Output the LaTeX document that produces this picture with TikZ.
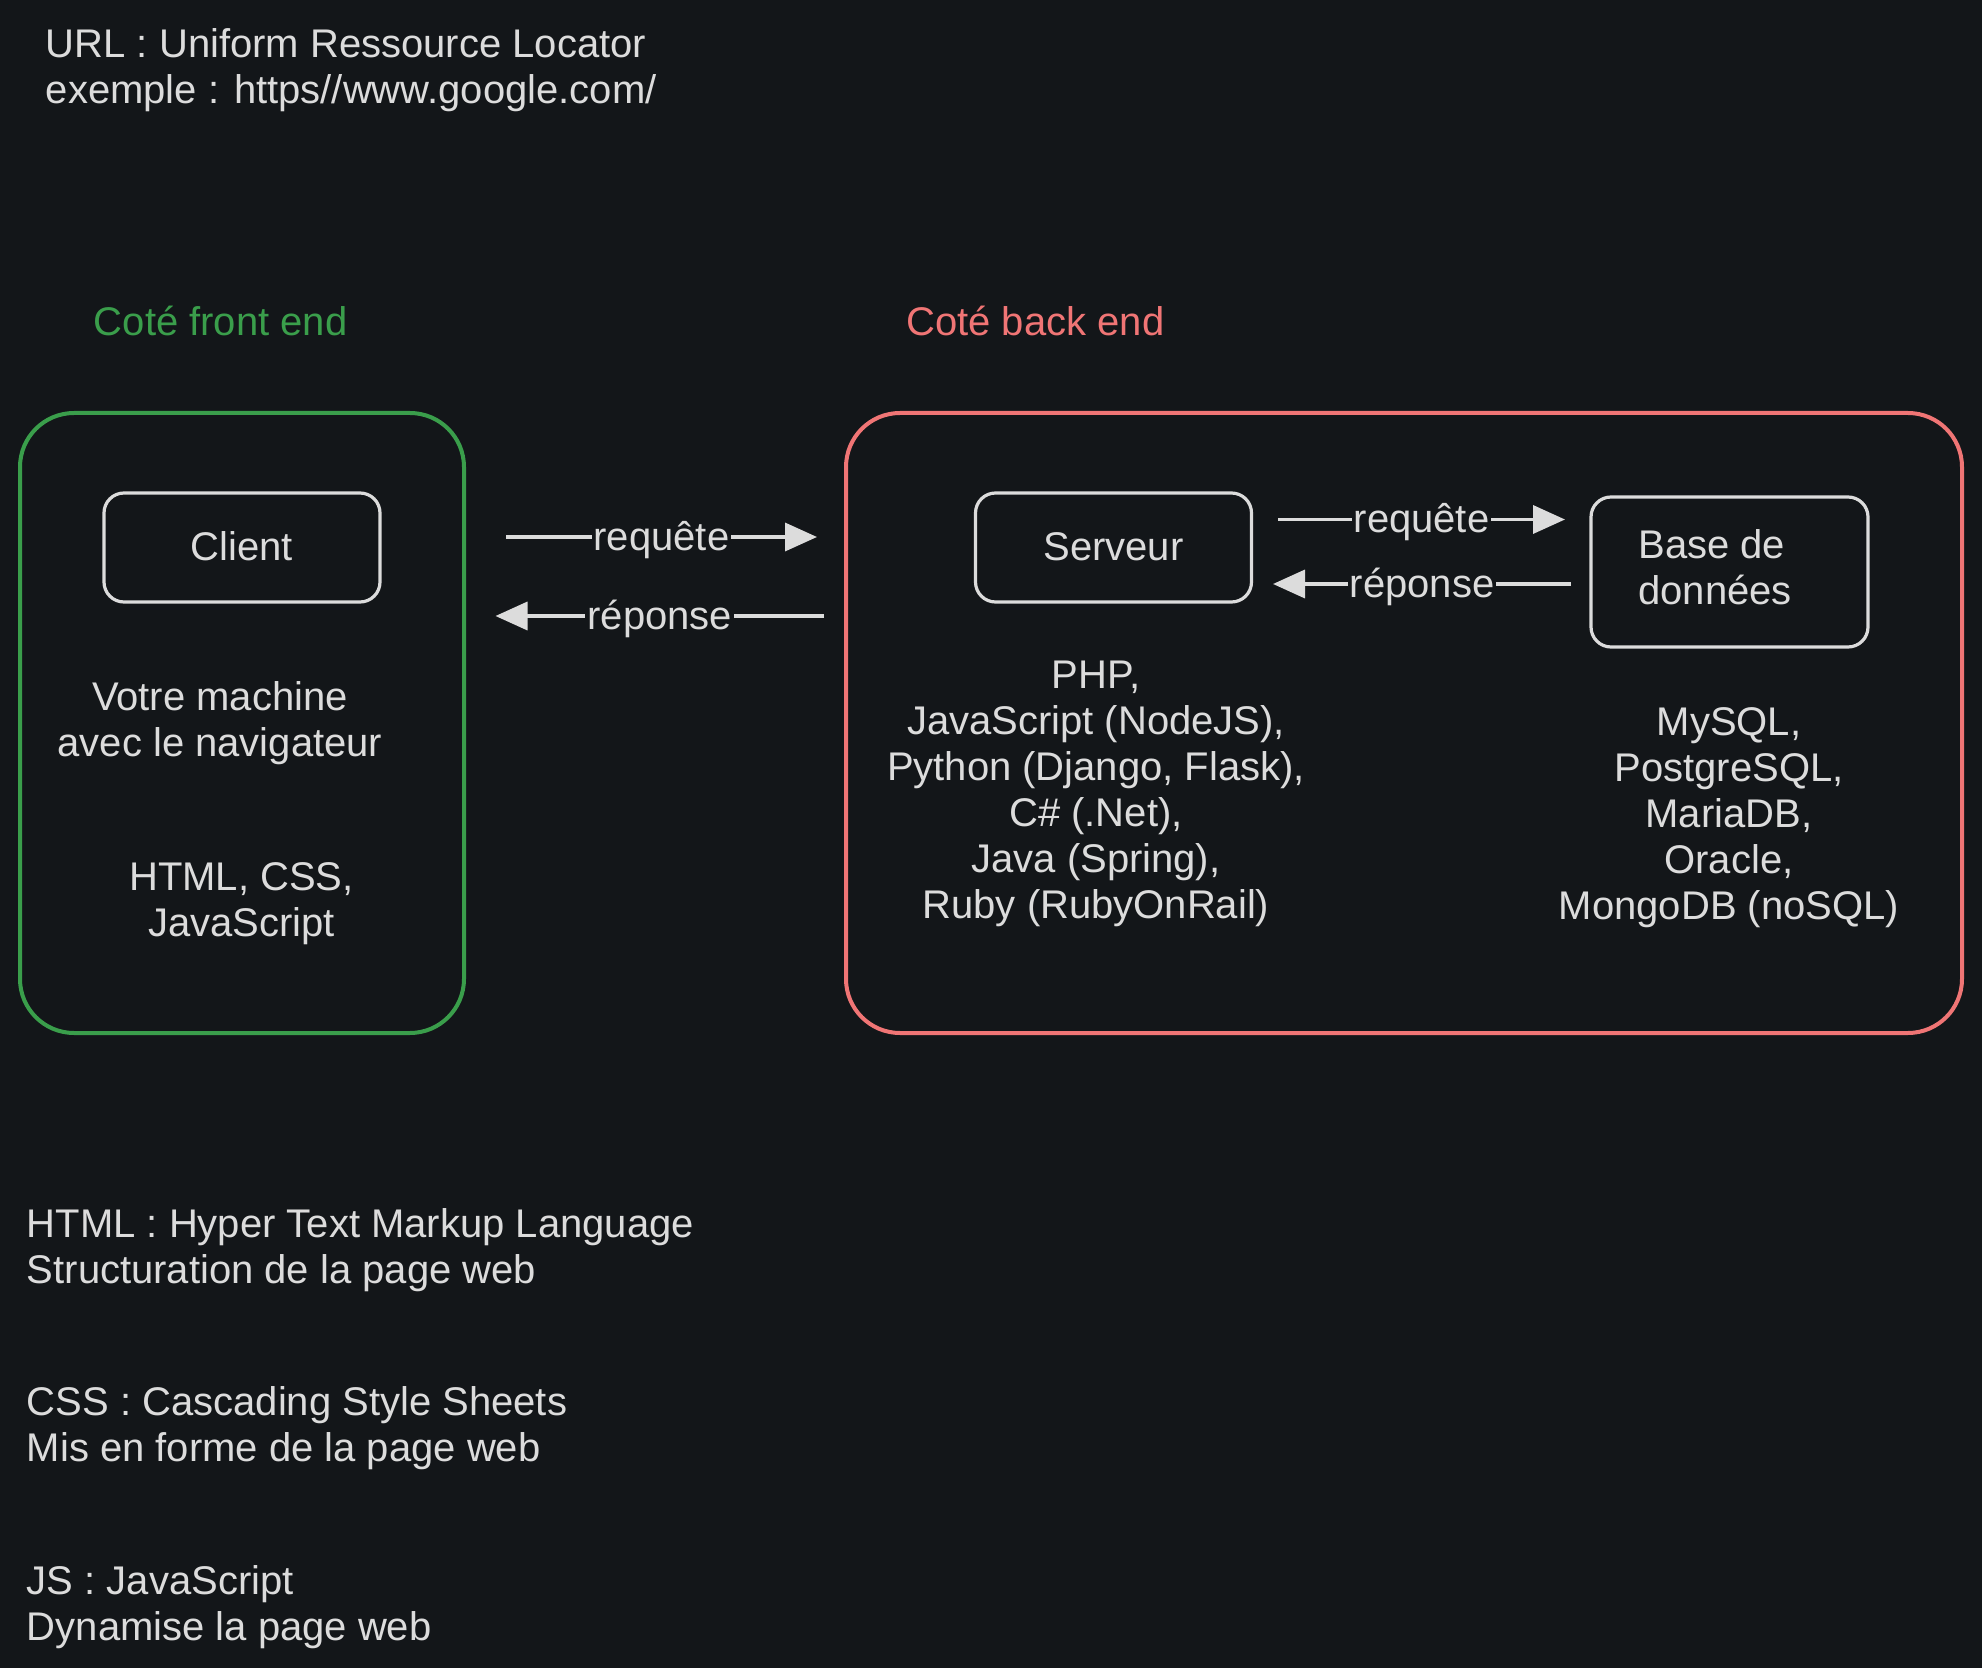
\documentclass[tikz,border=0pt]{standalone}
\usepackage{fontspec}
\setmainfont{Liberation Sans}
\usetikzlibrary{arrows.meta}
\definecolor{bg}{HTML}{131619}
\definecolor{fg}{HTML}{DCDCDC}
\definecolor{grn}{HTML}{3A9E4B}
\definecolor{pnk}{HTML}{F07575}
\tikzset{
  txt/.style={text=fg, inner sep=0pt, yshift=-2pt, font=\fontsize{20pt}{23pt}\selectfont},
  ltxt/.style={txt, anchor=west, align=left},
  ctxt/.style={txt, align=center},
  container/.style={draw, line width=2pt, rounded corners=27pt, minimum width=222pt, minimum height=310pt, inner sep=0pt},
  box/.style={draw=fg, line width=1.6pt, rounded corners=10pt, minimum width=138pt, minimum height=54.5pt, inner sep=0pt, text=fg, font=\fontsize{20pt}{23pt}\selectfont},
  flow/.style={draw=fg, line width=1.8pt, -{Triangle[length=16pt,width=14pt]}},
  flab/.style={fill=bg, text=fg, inner sep=1pt, yshift=-1.5pt, font=\fontsize{20pt}{23pt}\selectfont}
}
\begin{document}
\begin{tikzpicture}[x=0.5pt,y=-0.5pt]
\useasboundingbox[fill=bg] (0,0) rectangle (1982,1668);
% top note
\node[ltxt] (url) at (45.5,66.5) {URL : Uniform Ressource Locator\\exemple : https//www.google.com/};
% section titles
\node[ltxt, text=grn] (front) at (93.5,317) {Coté front end};
\node[ltxt, text=pnk] (back) at (906,317) {Coté back end};
% containers
\node[container, draw=grn] (frontbox) at (242,723) {};
\node[container, draw=pnk, minimum width=558pt] (backbox) at (1404,723) {};
% inner boxes
\node[box] (client) at (242,547.5) {\raisebox{1.2pt}{Client}};
\node[box] (serveur) at (1113.5,547.5) {\raisebox{1.2pt}{Serveur}};
\node[box, minimum height=75pt, minimum width=138.5pt] (bdd) at (1729.5,572) {};
\node[ltxt] (bddtext) at (1638,563.5) {Base de\\données};
% descriptions
\node[ctxt] (machine) at (220,719.5) {Votre machine\\avec le navigateur};
\node[ctxt] (techfront) at (241.5,899.5) {HTML, CSS,\\JavaScript};
\node[ctxt] (techback) at (1096,790) {PHP,\\JavaScript (NodeJS),\\Python (Django, Flask),\\C\# (.Net),\\Java (Spring),\\Ruby (RubyOnRail)};
\node[ctxt] (techdb) at (1729,814) {MySQL,\\PostgreSQL,\\MariaDB,\\Oracle,\\MongoDB (noSQL)};
% arrows client <-> server
\coordinate (r1s) at (506,537);
\coordinate (r1e) at (817,537);
\coordinate (p1s) at (824,616);
\coordinate (p1e) at (495.5,616);
\draw[flow] (r1s) -- node[flab] (lreq1) {requête} (r1e);
\draw[flow] (p1s) -- node[flab] (lrep1) {réponse} (p1e);
% arrows server <-> db
\coordinate (r2s) at (1278,519.5);
\coordinate (r2e) at (1565,519.5);
\coordinate (p2s) at (1571,584);
\coordinate (p2e) at (1273,584);
\draw[flow] (r2s) -- node[flab] (lreq2) {requête} (r2e);
\draw[flow] (p2s) -- node[flab] (lrep2) {réponse} (p2e);
% definitions
\node[ltxt] (defhtml) at (26.5,1246) {HTML : Hyper Text Markup Language\\Structuration de la page web};
\node[ltxt] (defcss) at (26.5,1424.5) {CSS : Cascading Style Sheets\\Mis en forme de la page web};
\node[ltxt] (defjs) at (26.5,1603) {JS : JavaScript\\Dynamise la page web};
\end{tikzpicture}
\end{document}
